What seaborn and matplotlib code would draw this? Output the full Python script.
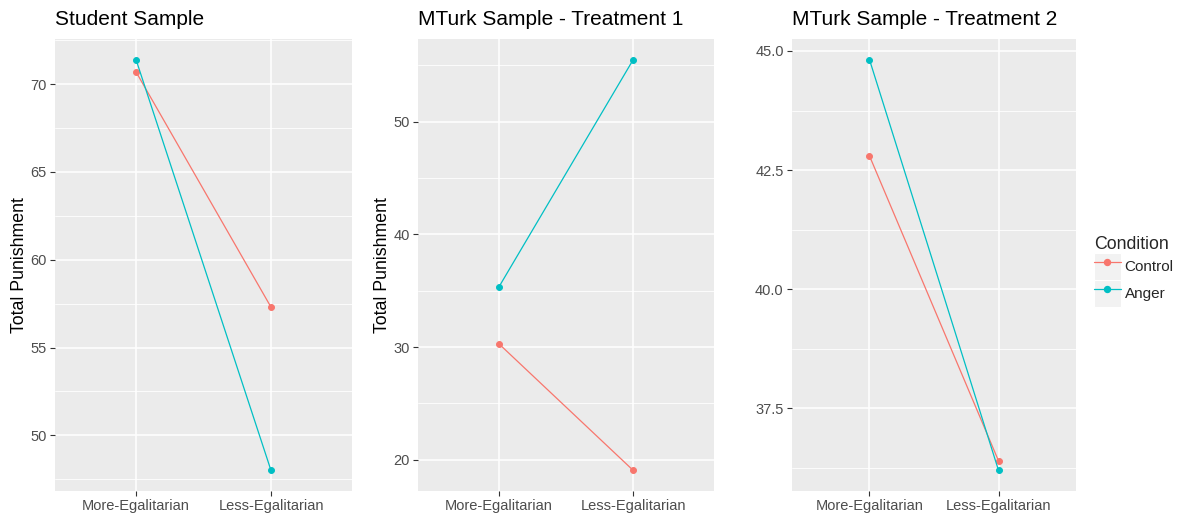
import pandas as pd
import matplotlib
matplotlib.use("Agg")
import matplotlib.pyplot as plt
from matplotlib.ticker import MultipleLocator, FormatStrFormatter
from matplotlib.lines import Line2D
from matplotlib.patches import Patch
from matplotlib.legend_handler import HandlerTuple
import seaborn as sns

# values
categories = ["More-Egalitarian", "Less-Egalitarian"]
conditions = ["Control", "Anger"]

student_control = [70.7, 57.3]
student_anger = [71.4, 48.0]
t1_control = [30.3, 19.05]
t1_anger = [35.3, 55.5]
t2_control = [42.8, 36.4]
t2_anger = [44.82, 36.2]

titles = ["Student Sample", "MTurk Sample - Treatment 1", "MTurk Sample - Treatment 2"]
panels = [(student_control, student_anger), (t1_control, t1_anger), (t2_control, t2_anger)]
major_step = [5, 10, 2.5]
tick_fmt = ["%d", "%d", "%.1f"]

colors = {"Control": "#F8766D", "Anger": "#00BFC4"}

sns.set_theme(style="white")
plt.rcParams["font.family"] = ["Liberation Sans", "DejaVu Sans"]

fig = plt.figure(figsize=(11.78, 5.2), dpi=100)
boxes = [(55, 297), (418, 296), (792, 284)]
W, H = 1178, 520

for i, (ctrl, ang) in enumerate(panels):
    left, width = boxes[i]
    ax = fig.add_axes([left / W, 29 / H, width / W, 452 / H])
    df = pd.DataFrame({
        "group": categories * 2,
        "value": list(ctrl) + list(ang),
        "Condition": ["Control"] * 2 + ["Anger"] * 2,
    })
    ax.set_facecolor("#EBEBEB")
    sns.pointplot(data=df, x="group", y="value", hue="Condition", order=categories,
                  hue_order=conditions, palette=colors, errorbar=None, dodge=False,
                  markers="o", markersize=4.3, linewidth=0.9, ax=ax, legend=False, zorder=3)

    vals = list(ctrl) + list(ang)
    lo, hi = min(vals), max(vals)
    pad = 0.05 * (hi - lo)
    ax.set_ylim(lo - pad, hi + pad)
    ax.set_xlim(-0.6, 1.6)

    ax.yaxis.set_major_locator(MultipleLocator(major_step[i]))
    ax.yaxis.set_minor_locator(MultipleLocator(major_step[i] / 2))
    ax.yaxis.set_major_formatter(FormatStrFormatter(tick_fmt[i]))
    ax.grid(True, which="major", color="white", linewidth=1.1, zorder=0)
    ax.grid(True, which="minor", axis="y", color="white", linewidth=0.6, zorder=0)
    ax.set_axisbelow(True)
    for s in ax.spines.values():
        s.set_visible(False)
    ax.tick_params(axis="both", which="major", length=3.5, width=0.8, color="#333333",
                   labelsize=10.5, labelcolor="#4D4D4D", pad=2.5, bottom=True, left=True)
    ax.tick_params(axis="y", which="minor", length=0)

    ax.set_xlabel("")
    if i < 2:
        ax.set_ylabel("Total Punishment", fontsize=12.8, color="black", labelpad=2)
    else:
        ax.set_ylabel("")
    ax.set_title(titles[i], loc="left", fontsize=15, color="black", pad=10)

handles = [(Patch(facecolor="#F2F2F2", edgecolor="white", linewidth=0.8),
            Line2D([0], [0], color=colors[c], marker="o", markersize=4.3, linewidth=0.9))
           for c in conditions]
leg = fig.legend(handles, conditions, title="Condition", loc="center left",
                 bbox_to_anchor=(1094 / W, 0.478), frameon=False, fontsize=11,
                 title_fontsize=12.8, handlelength=1.75, handleheight=2.34,
                 handletextpad=0.25, labelspacing=0.0, borderaxespad=0,
                 borderpad=0, handler_map={tuple: HandlerTuple(ndivide=1, pad=0)})
leg._legend_box.align = "left"

fig.savefig("out.png", dpi=100, facecolor="white")
